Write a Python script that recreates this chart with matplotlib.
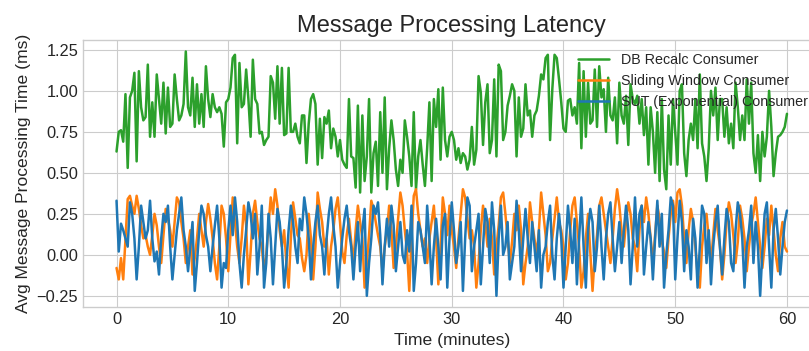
import numpy as np
import matplotlib
matplotlib.use("Agg")
import matplotlib.pyplot as plt

# values (one sample every ~0.2 min)
db_recalc = [
    0.63, 0.75, 0.76, 0.69, 0.98, 0.53, 0.96, 1.00, 1.11, 0.57, 1.12, 0.90, 0.82, 0.84, 1.16, 0.72, 0.93, 0.72, 1.10, 0.95,
    0.80, 1.05, 0.74, 1.02, 0.78, 0.80, 1.10, 0.95, 0.82, 0.85, 0.92, 1.24, 0.90, 0.85, 1.08, 0.78, 1.04, 0.80, 0.98, 0.78,
    1.15, 0.95, 0.84, 0.98, 0.90, 0.87, 0.90, 0.86, 0.66, 0.93,
    0.95, 1.02, 1.20, 1.22, 0.68, 1.17, 0.90, 0.92, 1.13, 0.95, 0.72, 1.19, 0.95, 0.92, 0.74, 0.75, 0.67, 0.70, 0.72, 1.09,
    1.05, 0.83, 1.15, 0.80, 1.14, 0.73, 0.74, 1.14, 0.75, 0.75, 0.80, 0.72, 0.68, 0.85, 0.85, 0.56, 0.80, 0.95, 0.98, 0.92,
    0.55, 0.83, 0.59, 0.84, 0.80, 0.88, 0.65, 0.77, 0.72, 0.60,
    0.70, 0.58, 0.55, 0.53, 0.95, 0.60, 0.59, 0.41, 0.91, 0.38, 0.85, 0.45, 0.60, 0.95, 0.38, 0.62, 0.69, 0.42, 0.87, 0.50,
    0.96, 0.40, 0.65, 0.82, 0.70, 0.52, 0.42, 0.58, 0.50, 0.82, 0.72, 0.60, 0.42, 0.87, 0.40, 0.60, 0.70, 0.55, 0.42, 0.65,
    0.93, 0.45, 0.95, 0.78, 1.01, 0.58, 1.02, 0.70, 0.60, 0.72,
    0.75, 0.70, 0.58, 0.65, 0.56, 0.62, 0.60, 0.52, 0.58, 0.78, 0.55, 0.64, 1.09, 0.99, 0.67, 0.93, 1.04, 0.62, 0.70, 1.07,
    0.60, 1.16, 1.12, 0.70, 0.75, 0.91, 0.97, 1.04, 1.00, 0.60, 0.96, 0.72, 0.77, 1.04, 0.85, 0.88, 0.72, 0.85, 0.88, 0.97,
    1.10, 1.07, 1.20, 1.22, 0.70, 1.01, 1.22, 1.20, 1.07, 0.93,
    0.77, 0.75, 0.94, 0.95, 0.85, 0.90, 0.80, 1.17, 0.65, 1.12, 0.72, 1.05, 0.80, 0.82, 1.13, 0.78, 1.15, 0.96, 1.01, 0.75,
    1.08, 0.85, 0.82, 0.96, 0.68, 1.05, 0.85, 0.80, 0.97, 0.67, 1.04, 0.95, 0.92, 0.97, 0.80, 0.95, 0.73, 0.90, 0.55, 0.90,
    0.75, 0.50, 0.87, 0.45, 0.95, 0.52, 0.40, 0.85, 0.55, 0.95,
    0.75, 0.55, 1.00, 1.04, 0.62, 0.48, 0.70, 0.80, 0.70, 0.95, 0.65, 1.10, 0.68, 0.60, 0.45, 0.65, 1.00, 0.85, 1.02, 0.70,
    0.95, 0.95, 0.72, 0.90, 0.68, 0.80, 0.65, 1.05, 0.90, 0.70, 0.85, 0.70, 1.07, 0.80, 1.05, 0.62, 0.50, 0.73, 0.45, 0.75,
    0.60, 0.72, 1.00, 0.78, 0.48, 0.62, 0.72, 0.73, 0.75, 0.78, 0.86,
]

sliding_window = [
    -0.08, -0.15, -0.02, -0.15, 0.10, 0.34, 0.36, 0.30, 0.25, 0.36, 0.28, 0.18, 0.10, 0.12, 0.05, 0.00, 0.12, 0.25, 0.18, 0.05,
    -0.05, 0.12, 0.28, 0.22, 0.15, 0.05, 0.20, 0.35, 0.32, 0.20, 0.10, -0.05, 0.05, 0.15, -0.12, -0.02, 0.10, 0.25, 0.15, 0.05,
    0.20, 0.31, 0.22, 0.10, -0.05, -0.15, 0.05, 0.30, 0.25, 0.10,
    -0.10, 0.12, 0.35, 0.20, 0.05, -0.05, 0.10, 0.30, 0.18, -0.18, 0.02, 0.25, 0.33, 0.20, 0.10, 0.05, -0.10, 0.00, 0.18, 0.35,
    0.25, 0.40, 0.30, 0.15, 0.05, 0.15, -0.05, -0.20, 0.10, 0.32, 0.22, 0.12, 0.10, -0.02, -0.10, 0.00, 0.25, 0.10, -0.15, 0.05,
    0.38, 0.28, 0.20, 0.05, 0.10, -0.12, 0.05, 0.15, 0.28, 0.35,
    0.20, 0.02, -0.05, 0.12, 0.22, 0.08, -0.05, 0.15, 0.30, 0.20, 0.10, -0.20, -0.05, 0.12, 0.33, 0.28, 0.20, 0.12, 0.05, -0.10,
    0.05, 0.15, 0.30, 0.15, -0.08, 0.05, 0.22, 0.38, 0.30, 0.15, 0.02, -0.22, 0.10, 0.36, 0.40, 0.25, 0.15, 0.05, 0.10, -0.05,
    0.10, 0.20, 0.30, 0.10, -0.18, 0.05, 0.35, 0.25, 0.12, 0.30,
    0.15, 0.05, -0.08, 0.10, 0.25, 0.40, 0.35, 0.22, 0.10, 0.15, 0.05, -0.20, -0.05, 0.15, 0.30, 0.20, 0.05, 0.22, 0.10, -0.12,
    0.05, 0.18, 0.35, 0.38, 0.25, 0.10, -0.05, 0.08, 0.25, 0.15, 0.30, 0.15, -0.18, -0.05, 0.05, 0.32, 0.20, 0.10, 0.00, 0.15,
    0.38, 0.25, 0.12, -0.10, -0.05, 0.10, 0.22, 0.35, 0.20, 0.15,
    0.05, -0.15, -0.05, 0.15, 0.30, 0.35, 0.20, 0.05, -0.20, -0.10, 0.10, 0.25, 0.02, -0.22, 0.00, 0.12, 0.30, 0.35, 0.25, 0.15,
    0.05, -0.05, 0.10, 0.28, 0.40, 0.30, 0.15, 0.05, 0.20, 0.32, 0.25, 0.10, 0.05, -0.10, 0.15, 0.30, 0.20, 0.35, 0.25, 0.10,
    -0.05, 0.12, 0.30, 0.22, 0.08, 0.02, -0.08, 0.10, 0.25, 0.33,
    0.20, 0.38, 0.40, 0.30, 0.10, -0.05, 0.15, 0.28, 0.20, 0.05, -0.12, -0.20, 0.05, 0.18, 0.25, 0.10, -0.05, 0.12, 0.28, 0.15,
    0.05, -0.15, 0.00, 0.20, 0.32, 0.25, 0.12, -0.05, 0.08, 0.30, 0.22, 0.10, -0.10, 0.05, 0.18, 0.25, 0.35, 0.20, 0.05, -0.08,
    0.05, 0.22, 0.12, 0.30, 0.15, 0.00, -0.10, 0.10, 0.20, 0.05, 0.02,
]

sut_exponential = [
    0.33, 0.02, 0.19, 0.15, 0.10, 0.05, 0.32, 0.25, 0.10, -0.15, 0.05, 0.30, 0.20, 0.10, 0.15, 0.33, 0.10, -0.04, 0.02, -0.12,
    0.10, 0.25, 0.20, 0.30, 0.05, -0.15, 0.00, 0.15, 0.25, 0.35, 0.15, 0.05, -0.10, 0.05, 0.20, -0.22, -0.05, 0.15, 0.30, 0.25,
    0.12, 0.05, -0.10, 0.05, 0.18, 0.30, 0.10, -0.20, -0.05, -0.08,
    0.15, 0.30, 0.12, 0.35, 0.20, -0.05, -0.20, 0.00, 0.15, 0.32, 0.25, 0.10, 0.25, -0.12, 0.05, 0.30, -0.20, -0.05, 0.25, 0.10,
    -0.18, 0.05, 0.28, 0.20, 0.05, -0.20, -0.05, 0.15, 0.30, 0.20, 0.05, -0.05, 0.22, 0.15, 0.35, 0.25, 0.10, -0.15, 0.05, 0.20,
    0.30, 0.12, 0.05, -0.12, 0.10, 0.25, 0.35, 0.18, 0.05, -0.20,
    -0.05, 0.10, 0.22, 0.30, 0.15, 0.05, -0.15, 0.05, 0.20, -0.10, 0.15, 0.28, -0.25, -0.05, 0.10, 0.30, 0.25, 0.32, 0.12, -0.18,
    0.05, 0.22, 0.05, 0.30, 0.18, -0.10, 0.05, 0.20, 0.00, -0.05, 0.15, 0.02, 0.30, -0.22, -0.05, 0.20, 0.15, 0.05, -0.05, 0.30,
    0.10, -0.18, 0.05, 0.22, 0.05, -0.15, 0.18, 0.25, -0.20, 0.10,
    0.32, 0.15, -0.05, 0.05, 0.20, -0.22, 0.10, 0.35, 0.30, -0.10, 0.05, 0.15, 0.25, -0.18, 0.05, 0.28, 0.20, -0.05, 0.32, 0.15,
    -0.25, 0.10, 0.30, 0.00, 0.05, 0.20, -0.15, -0.05, 0.05, 0.33, 0.15, -0.10, 0.10, 0.28, 0.10, -0.05, 0.20, 0.05, -0.10, 0.15,
    -0.20, 0.00, 0.05, 0.20, 0.30, 0.00, -0.15, 0.10, 0.25, 0.10,
    -0.20, 0.05, 0.30, 0.15, -0.05, 0.22, -0.18, 0.10, 0.35, 0.05, -0.20, 0.15, 0.28, 0.20, -0.10, 0.05, 0.30, 0.05, -0.15, 0.10,
    0.25, 0.32, 0.10, -0.10, 0.05, 0.20, -0.05, 0.15, 0.30, 0.15, -0.18, 0.05, 0.35, 0.05, 0.25, 0.30, -0.12, 0.05, 0.20, 0.10,
    -0.15, 0.10, 0.33, 0.05, 0.25, -0.20, 0.00, 0.15, 0.35, 0.30,
    -0.15, 0.10, 0.33, 0.20, -0.10, 0.15, 0.05, -0.15, 0.22, 0.10, -0.20, 0.05, 0.30, 0.25, -0.05, 0.15, -0.18, 0.05, 0.20, 0.30,
    0.05, -0.12, 0.10, 0.28, 0.20, -0.05, -0.10, 0.15, 0.32, 0.25, 0.10, -0.20, 0.05, 0.15, 0.30, -0.05, 0.20, 0.05, -0.25, 0.02,
    0.25, 0.32, 0.05, -0.20, 0.15, 0.28, 0.10, -0.12, 0.05, 0.20, 0.27,
]

series_labels = ["DB Recalc Consumer", "Sliding Window Consumer", "SUT (Exponential) Consumer"]

plt.style.use("seaborn-v0_8-whitegrid")
plt.rcParams["font.family"] = ["Liberation Sans", "DejaVu Sans"]

fig = plt.figure(figsize=(8.09, 3.51), dpi=100)
ax = fig.add_axes([0.1026, 0.1245, 0.9116, 0.7615])

for vals, col, lab in zip([db_recalc, sliding_window, sut_exponential],
                          ["tab:green", "tab:orange", "tab:blue"], series_labels):
    minutes = np.linspace(0, 60, len(vals))
    ax.plot(minutes, vals, color=col, lw=1.8, label=lab)

ax.set_xlim(-3, 63)
ax.set_ylim(-0.32, 1.31)
ax.set_xticks([0, 10, 20, 30, 40, 50, 60])
ax.set_yticks([-0.25, 0.0, 0.25, 0.5, 0.75, 1.0, 1.25])
ax.tick_params(labelsize=11.8)

ax.set_title("Message Processing Latency", fontsize=17)
ax.set_xlabel("Time (minutes)", fontsize=12.6)
ax.set_ylabel("Avg Message Processing Time (ms)", fontsize=12.6)

ax.legend(loc="upper right", frameon=False, fontsize=10.3, handlelength=2.2, labelspacing=0.5)

fig.savefig("out.png", dpi=100)
